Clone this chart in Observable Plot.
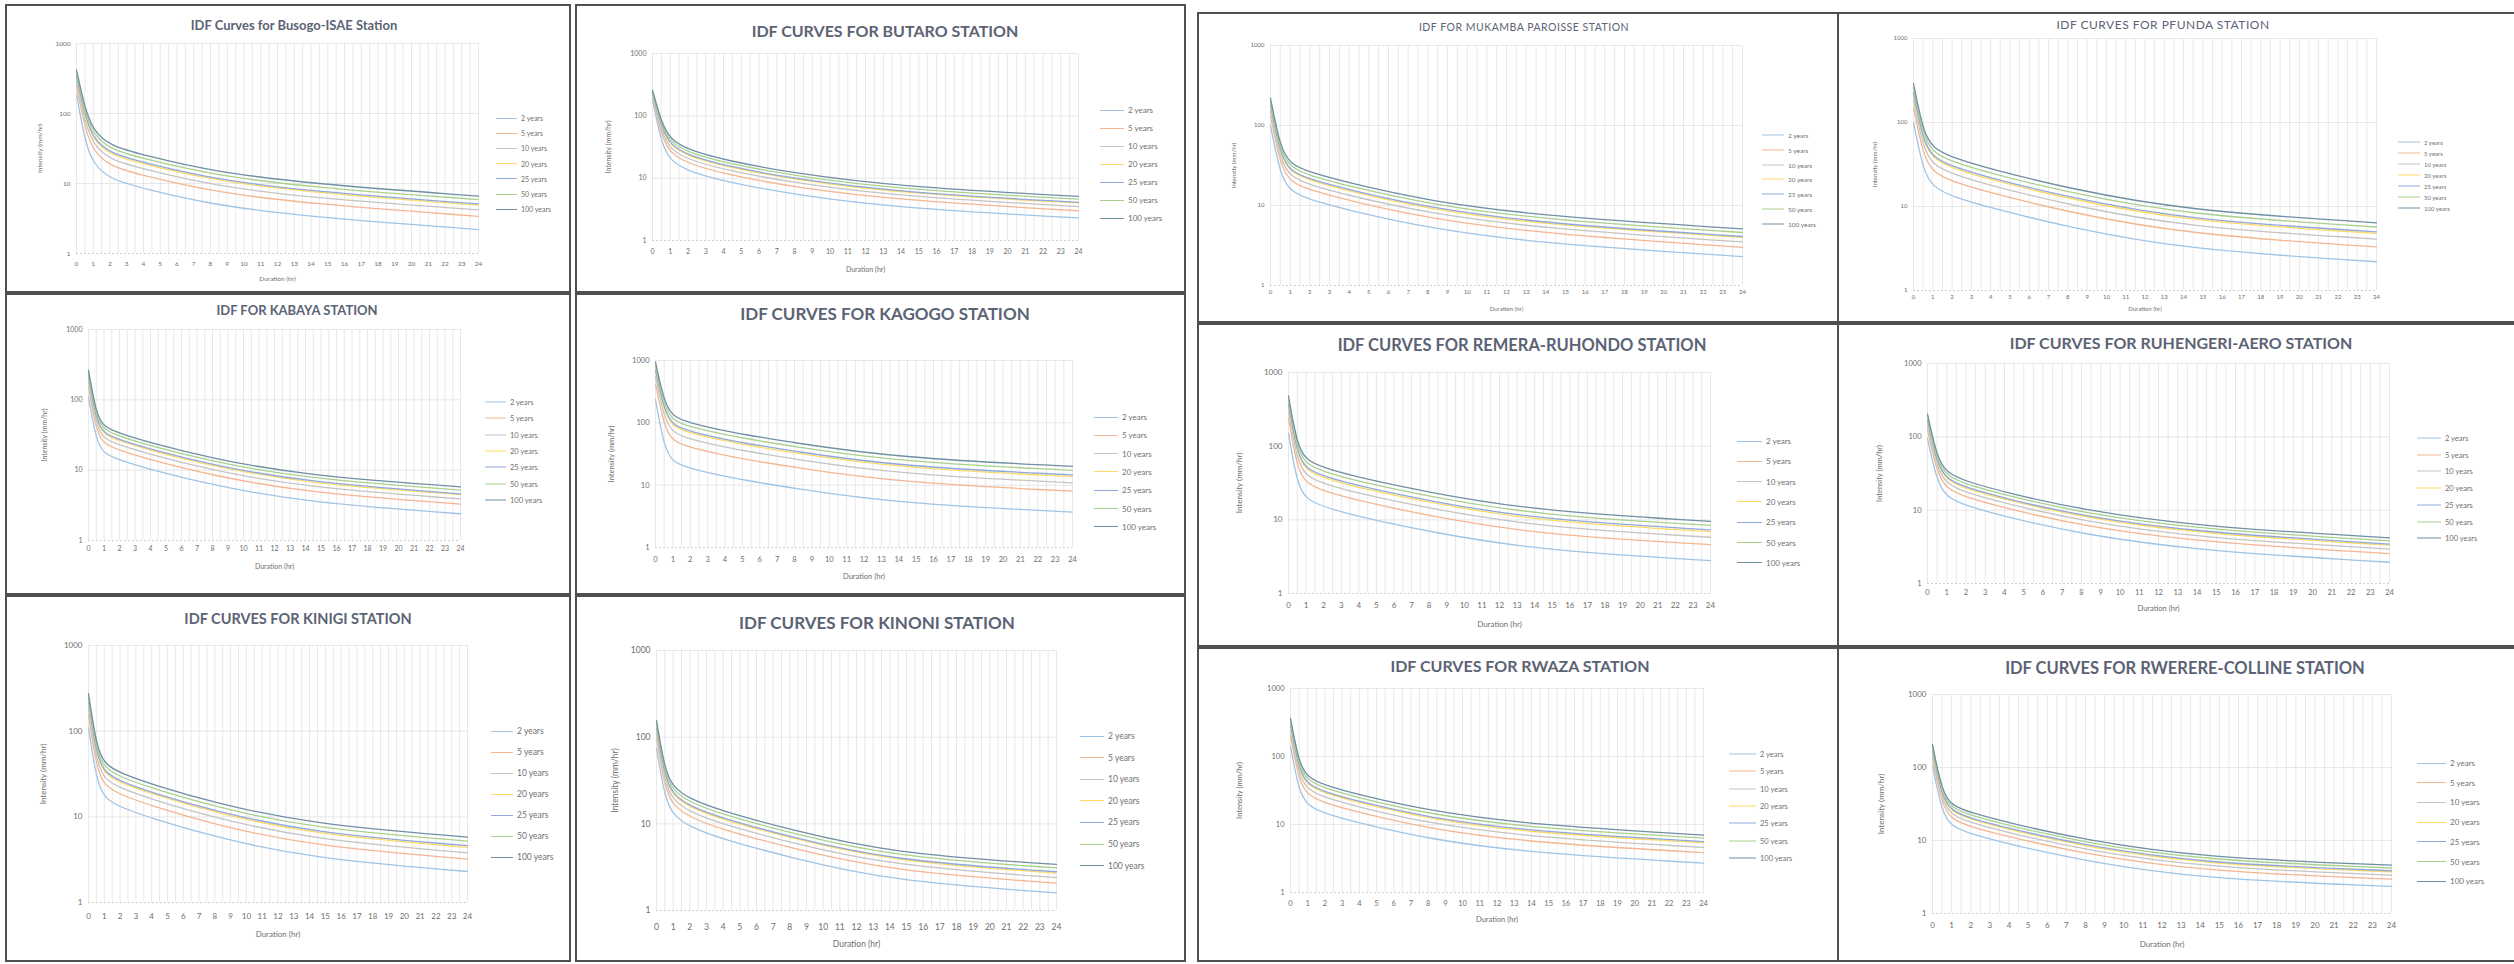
<!DOCTYPE html>
<html><head><meta charset="utf-8">
<script src="https://cdn.jsdelivr.net/npm/d3@7"></script>
<script src="https://cdn.jsdelivr.net/npm/@observablehq/plot@0.6"></script>
<style>
html,body{margin:0;padding:0;background:#fff;}
#page{position:relative;width:2514px;height:964px;overflow:hidden;font-family:Lato,"Open Sans",sans-serif;background:#fff;}
.panel{position:absolute;box-sizing:border-box;border:2px solid #4f4f4f;}
.title{position:absolute;transform:translate(-50%,-50%);white-space:nowrap;color:#5b6374;}
.plot{position:absolute;overflow:visible;}
.item{position:absolute;white-space:nowrap;display:flex;align-items:center;transform:translateY(-50%);color:#707070;}
.sw{display:inline-block;height:0;border-top:1.6px solid;margin-right:4px;}
</style></head><body><div id="page"></div>
<script>
const durations = [0, 0.5, 1, 2, 4, 8, 14, 24];
const xTicks = [0,1,2,3,4,5,6,7,8,9,10,11,12,13,14,15,16,17,18,19,20,21,22,23,24];
const yTicks = [1, 10, 100, 1000];
const returnPeriods = ["2 years","5 years","10 years","20 years","25 years","50 years","100 years"];
const seriesColors = ["#9fc4e6","#f4b690","#c4c4c4","#ffd866","#8eaadb","#a9d18e","#6f8fa3"];

const busogo = [
 [190, 40, 19, 11.5, 8.5, 5.0, 3.3, 2.2],
 [251, 61, 29, 17.6, 13.0, 7.7, 5.1, 3.4],
 [291, 76, 36, 21.7, 16.1, 9.5, 6.2, 4.2],
 [330, 89, 42, 25.6, 19.0, 11.2, 7.4, 4.9],
 [343, 94, 44, 26.9, 20.0, 11.7, 7.7, 5.1],
 [380, 107, 51, 30.7, 22.7, 13.4, 8.8, 5.9],
 [418, 120, 57, 34.5, 25.5, 15.0, 9.9, 6.6]];
const butaro = [
 [185, 36, 19, 13, 8.9, 5.4, 3.3, 2.3],
 [205, 47.5, 25.1, 17.2, 11.7, 7.1, 4.4, 3.0],
 [218, 55, 29.1, 19.9, 13.7, 8.3, 5.1, 3.5],
 [231, 63, 33, 22.6, 15.5, 9.4, 5.7, 4.0],
 [235, 65, 34.3, 23.4, 16.0, 9.7, 5.9, 4.1],
 [247, 72, 38, 26, 17.8, 10.8, 6.6, 4.6],
 [259, 79, 41.8, 28.6, 19.6, 11.9, 7.3, 5.1]];
const kabaya = [
 [110, 26, 17, 14, 10.2, 6.1, 3.5, 2.4],
 [151, 35.7, 23.4, 19.2, 14.0, 8.4, 4.8, 3.3],
 [179, 42.2, 27.6, 22.7, 16.6, 9.9, 5.7, 3.9],
 [205, 48.4, 31.6, 26.1, 19.0, 11.4, 6.5, 4.5],
 [213, 50.4, 32.9, 27.1, 19.8, 11.8, 6.8, 4.6],
 [239, 56.4, 36.9, 30.4, 22.1, 13.2, 7.6, 5.2],
 [264, 62.4, 40.8, 33.6, 24.5, 14.6, 8.4, 5.8]];
const kagogo = [
 [235, 40, 23, 18.5, 13.6, 8.8, 5.1, 3.7],
 [423, 87, 50, 40.2, 29.6, 19.1, 11.1, 8.0],
 [549, 118, 68, 54.7, 40.2, 26.0, 15.1, 10.9],
 [669, 148, 85, 68.6, 50.4, 32.6, 18.9, 13.7],
 [707, 158, 91, 73, 53.6, 34.7, 20.1, 14.6],
 [824, 187, 107, 86.5, 63.6, 41.1, 23.8, 17.3],
 [940, 216, 124, 100, 73.4, 47.5, 27.5, 20.0]];
const kinigi = [
 [110, 27, 16.5, 13, 9.6, 5.8, 3.3, 2.3],
 [154, 37.8, 23.1, 18.2, 13.4, 8.1, 4.6, 3.2],
 [183, 45, 27.5, 21.7, 16.0, 9.7, 5.5, 3.8],
 [212, 51.9, 31.7, 25, 18.5, 11.2, 6.3, 4.4],
 [220, 54.1, 33.1, 26.1, 19.2, 11.6, 6.6, 4.6],
 [248, 60.8, 37.2, 29.3, 21.6, 13.1, 7.4, 5.2],
 [275, 67.5, 41.3, 32.5, 24.0, 14.5, 8.3, 5.8]];
const kinoni = [
 [74, 20, 12.5, 9.2, 6.6, 4.1, 2.2, 1.6],
 [96, 25.9, 16.2, 11.9, 8.5, 5.3, 2.85, 2.07],
 [110, 29.8, 18.6, 13.7, 9.8, 6.1, 3.3, 2.4],
 [124, 33.5, 21, 15.4, 11.1, 6.9, 3.7, 2.7],
 [128, 34.7, 21.7, 16, 11.5, 7.1, 3.8, 2.8],
 [142, 38.4, 24, 17.7, 12.7, 7.9, 4.2, 3.1],
 [155, 42, 26.3, 19.3, 13.9, 8.6, 4.6, 3.4]];
const mukamba = [
 [100, 24, 15, 11.8, 8.7, 5.2, 3.3, 2.3],
 [132, 31.7, 19.8, 15.6, 11.5, 6.9, 4.4, 3.0],
 [153, 36.8, 23, 18.1, 13.3, 8.0, 5.1, 3.5],
 [174, 41.7, 26.1, 20.5, 15.1, 9.0, 5.7, 4.0],
 [180, 43.3, 27, 21.3, 15.7, 9.4, 5.9, 4.1],
 [200, 48, 30, 23.6, 17.4, 10.4, 6.6, 4.6],
 [220, 52.8, 33, 26, 19.1, 11.4, 7.3, 5.1]];
const pfunda = [
 [100, 27, 17, 13.2, 9.6, 5.7, 3.1, 2.2],
 [151, 40.7, 25.6, 19.9, 14.5, 8.6, 4.7, 3.3],
 [185, 49.8, 31.4, 24.4, 17.7, 10.5, 5.7, 4.1],
 [217, 58.6, 36.9, 28.6, 20.8, 12.4, 6.7, 4.8],
 [227, 61.3, 38.6, 30, 21.8, 12.9, 7.0, 5.0],
 [259, 69.8, 44, 34.1, 24.8, 14.7, 8.0, 5.7],
 [290, 78.3, 49.3, 38.3, 27.8, 16.5, 9.0, 6.4]];
const remera = [
 [150, 30, 19, 15, 11.0, 6.9, 3.9, 2.8],
 [238, 49.2, 31.2, 24.6, 18.1, 11.3, 6.4, 4.6],
 [297, 62, 39.3, 31, 22.7, 14.3, 8.1, 5.8],
 [353, 74.3, 47, 37.1, 27.2, 17.1, 9.7, 6.9],
 [371, 78.2, 49.5, 39.1, 28.7, 18, 10.2, 7.3],
 [426, 90, 57, 45, 33.0, 20.7, 11.7, 8.4],
 [480, 102, 64.6, 51, 37.4, 23.5, 13.3, 9.5]];
const ruhengeri = [
 [95, 24, 15, 11.5, 8.2, 4.7, 2.8, 1.95],
 [124, 31.4, 19.6, 15, 10.7, 6.1, 3.7, 2.55],
 [144, 36.3, 22.7, 17.4, 12.4, 7.1, 4.2, 2.95],
 [162, 41, 25.6, 19.6, 14.0, 8.0, 4.8, 3.33],
 [168, 42.5, 26.5, 20.3, 14.5, 8.3, 5.0, 3.45],
 [186, 47, 29.4, 22.5, 16.1, 9.2, 5.5, 3.82],
 [204, 51.6, 32.3, 24.7, 17.6, 10.1, 6.0, 4.2]];
const rwaza = [
 [140, 30, 19, 14.5, 10.5, 6.1, 3.8, 2.7],
 [200, 42.8, 27.1, 20.7, 15.0, 8.7, 5.4, 3.85],
 [240, 51.4, 32.5, 24.8, 18.0, 10.4, 6.5, 4.6],
 [278, 59.5, 37.7, 28.8, 20.8, 12.1, 7.5, 5.4],
 [290, 62.1, 39.3, 30, 21.7, 12.6, 7.9, 5.6],
 [327, 70, 44.4, 33.9, 24.5, 14.2, 8.9, 6.3],
 [364, 78, 49.4, 37.7, 27.3, 15.9, 9.9, 7.0]];
const rwerere = [
 [105, 24, 15.5, 12.3, 8.9, 5.2, 3.0, 2.35],
 [132, 30.1, 19.4, 15.4, 11.2, 6.5, 3.8, 2.95],
 [149, 34.2, 22.1, 17.5, 12.7, 7.4, 4.3, 3.35],
 [166, 38, 24.6, 19.5, 14.1, 8.2, 4.75, 3.72],
 [172, 39.3, 25.4, 20.1, 14.6, 8.5, 4.9, 3.85],
 [188, 43, 27.8, 22.1, 16.0, 9.3, 5.4, 4.2],
 [205, 46.8, 30.2, 24, 17.4, 10.1, 5.85, 4.6]];

// layout: box [x1,y1,x2,y2]; t [cx,cy,size,weight]; f [x0,x24,yTop,yBottom]; xl x-label y; yl y-label x; tk tick gap; fs tick font; lg [swatchX, firstY, step, swatchW, font]
const panels = [
 {title:"IDF Curves for Busogo-ISAE Station", data:busogo, box:[5,4,571,293], t:[294,25,13,700], f:[76,478,43,253], xl:277, yl:41, tk:12, fs:6.5, lg:[496,118,15.2,21,7]},
 {title:"IDF CURVES FOR BUTARO STATION", data:butaro, box:[575,4,1186,293], t:[885,30,16,700], f:[652,1078,53,240], xl:268, yl:610, tk:13, fs:7, lg:[1100,110,18,24,8]},
 {title:"IDF FOR KABAYA STATION", data:kabaya, box:[5,293,571,595], t:[297,310,13,700], f:[88,460,329,540], xl:565, yl:46, tk:10, fs:7, lg:[485,402,16.3,21,7.5]},
 {title:"IDF CURVES FOR KAGOGO STATION", data:kagogo, box:[575,293,1186,595], t:[885,313,17,700], f:[655,1072,360,547], xl:575, yl:612, tk:13, fs:7.5, lg:[1094,417,18.3,24,8]},
 {title:"IDF CURVES FOR KINIGI STATION", data:kinigi, box:[5,595,571,962], t:[298,618,14.5,700], f:[88,467,645,902], xl:933, yl:44, tk:15, fs:8, lg:[491,731,21,22,8.5]},
 {title:"IDF CURVES FOR KINONI STATION", data:kinoni, box:[575,595,1186,962], t:[877,622,17,700], f:[656,1056,650,910], xl:943, yl:615, tk:17, fs:8.5, lg:[1080,736,21.6,24,8.5]},
 {title:"IDF FOR MUKAMBA PAROISSE STATION", data:mukamba, box:[1197,12,1839,323], t:[1524,27,10.5,400], f:[1270,1742,45,285], xl:307, yl:1235, tk:8, fs:6, lg:[1762,135,14.8,22,6.5]},
 {title:"IDF CURVES FOR PFUNDA STATION", data:pfunda, box:[1837,12,2516,323], t:[2163,24,12,400], f:[1913,2376,38,290], xl:307, yl:1876, tk:8, fs:6, lg:[2398,142,11,22,6]},
 {title:"IDF CURVES FOR REMERA-RUHONDO STATION", data:remera, box:[1197,323,1839,647], t:[1522,345,16.5,700], f:[1288,1710,372,593], xl:623, yl:1240, tk:13, fs:8, lg:[1737,441,20.3,25,8]},
 {title:"IDF CURVES FOR RUHENGERI-AERO STATION", data:ruhengeri, box:[1837,323,2516,647], t:[2181,342,16,700], f:[1927,2389,363,583], xl:607, yl:1880, tk:10, fs:7.5, lg:[2417,438,16.7,24,7.5]},
 {title:"IDF CURVES FOR RWAZA STATION", data:rwaza, box:[1197,647,1839,962], t:[1520,665,16,700], f:[1290,1703,688,892], xl:918, yl:1240, tk:12, fs:7.5, lg:[1729,754,17.3,27,7.5]},
 {title:"IDF CURVES FOR RWERERE-COLLINE STATION", data:rwerere, box:[1837,647,2516,962], t:[2185,668,16.5,700], f:[1932,2391,694,913], xl:943, yl:1882, tk:13, fs:8, lg:[2417,763,19.7,29,8]}
];

const page = document.getElementById("page");

function el(tag, cls, css, text){
  const e = document.createElement(tag);
  if (cls) e.className = cls;
  Object.assign(e.style, css || {});
  if (text != null) e.textContent = text;
  page.appendChild(e);
  return e;
}

panels.forEach(p => {
  const [bx1, by1, bx2, by2] = p.box;
  el("div", "panel", {left: bx1+"px", top: by1+"px", width: (bx2-bx1)+"px", height: (by2-by1)+"px"});
  el("div", "title", {left: p.t[0]+"px", top: p.t[1]+"px", fontSize: p.t[2]+"px", fontWeight: p.t[3], letterSpacing: p.t[3] < 500 ? "0.5px" : "0"}, p.title);

  const [x0, x24, yT, yB] = p.f;
  const left = p.yl - 7, top = yT - 8;
  const ml = x0 - left, mt = 8, mr = 8;
  const height = p.xl + 7 - top, mb = p.xl + 7 - yB;
  const width = x24 - left + mr;
  const rows = p.data.flatMap((vals, i) => vals.map((v, j) => ({period: returnPeriods[i], d: durations[j], v})));

  const svg = Plot.plot({
    width, height, marginLeft: ml, marginRight: mr, marginTop: mt, marginBottom: mb,
    style: {background: "transparent", fontFamily: "Lato, 'Open Sans', sans-serif", fontSize: p.fs + "px", color: "#6e6e6e", overflow: "visible"},
    x: {domain: [0, 24]},
    y: {type: "log", domain: [1, 1000]},
    color: {domain: returnPeriods, range: seriesColors},
    marks: [
      Plot.ruleX(d3.range(0, 24.01, 0.5), {stroke: "#e2e2e2", strokeWidth: 0.8}),
      Plot.ruleY([10, 100, 1000], {stroke: "#e2e2e2", strokeWidth: 0.8}),
      Plot.ruleY([1], {stroke: "#cfcfcf", strokeWidth: 1, strokeDasharray: "2,2"}),
      Plot.axisX(xTicks, {tickSize: 0, tickPadding: p.tk - 4, label: "Duration (hr)", labelAnchor: "center", labelArrow: "none", labelOffset: p.xl - yB + 3}),
      Plot.axisY(yTicks, {tickSize: 0, tickPadding: 6, tickFormat: d => String(d), label: "Intensity (mm/hr)", labelAnchor: "center", labelArrow: "none", labelOffset: ml - 3}),
      Plot.line(rows, {x: "d", y: "v", z: "period", stroke: "period", curve: "basis", strokeWidth: 1.3})
    ]
  });
  svg.classList.add("plot");
  svg.style.left = left + "px";
  svg.style.top = top + "px";
  page.appendChild(svg);

  const [sx, sy, step, sw, lf] = p.lg;
  returnPeriods.forEach((rp, i) => {
    const it = el("div", "item", {left: sx+"px", top: (sy + i*step)+"px", fontSize: lf+"px"});
    const s = document.createElement("span");
    s.className = "sw";
    s.style.width = sw + "px";
    s.style.borderTopColor = seriesColors[i];
    it.appendChild(s);
    it.appendChild(document.createTextNode(rp));
  });
});
</script></body></html>
